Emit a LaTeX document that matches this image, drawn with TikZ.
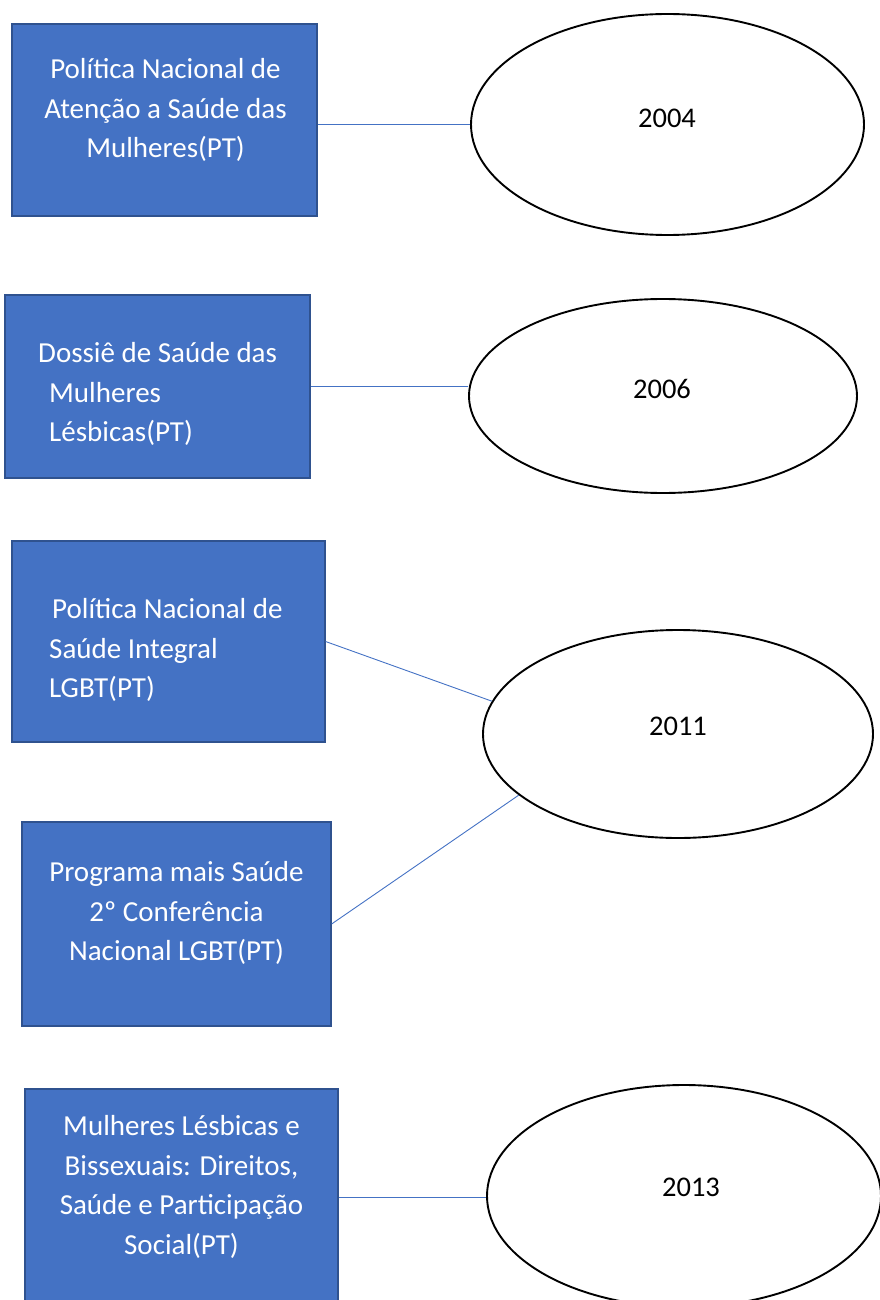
\documentclass[tikz,border=0pt]{standalone}
\usepackage{fontspec}
\setmainfont{Carlito}
\usetikzlibrary{shapes.geometric}

\definecolor{officeBlue}{HTML}{4472C4}
\definecolor{officeEdge}{HTML}{2F528F}

\begin{document}
\begin{tikzpicture}[
  x=1pt, y=-1pt,
  policy box/.style={draw=officeEdge, line width=1.2pt, fill=officeBlue, inner sep=0pt},
  policy text/.style={text=white, font=\fontsize{29}{39.5}\selectfont, align=center, inner sep=0pt},
  policy text left/.style={policy text, align=left, anchor=west},
  year shape/.style={draw, ellipse, line width=1.9pt, fill=white, inner sep=0pt},
  year text/.style={font=\fontsize{28.5}{34}\selectfont},
  link/.style={draw=officeBlue, line width=0.9pt}
]

\useasboundingbox (0,0) rectangle (880,1300);

% -----------------------------------------------------------------------------
% Left column: the policy documents (blue boxes).
% -----------------------------------------------------------------------------
\node[policy box, minimum width=305pt, minimum height=192pt] (box2004) at (164.5,120) {};
\node[policy text] (box2004Text) at (165.5,110) {Política Nacional de\\Atenção a Saúde das\\Mulheres(PT)};

\node[policy box, minimum width=305pt, minimum height=183pt] (box2006) at (157.5,386.5) {};
\node[policy text left] (box2006Text) at (38,394) {Dossiê de Saúde das\\\hspace*{11pt}Mulheres\\\hspace*{11pt}Lésbicas(PT)};

\node[policy box, minimum width=313pt, minimum height=201pt] (box2011a) at (168.5,641.5) {};
\node[policy text left] (box2011aText) at (49,650) {\hspace*{3pt}Política Nacional de\\Saúde Integral\\LGBT(PT)};

\node[policy box, minimum width=309pt, minimum height=204pt] (box2011b) at (176.5,924) {};
\node[policy text] (box2011bText) at (176.5,913) {Programa mais Saúde\\2º Conferência\\Nacional LGBT(PT)};

\node[policy box, minimum width=313pt, minimum height=216pt] (box2013) at (181.5,1197) {};
\node[policy text] (box2013Text) at (181.5,1187) {Mulheres Lésbicas e\\Bissexuais: Direitos,\\Saúde e Participação\\Social(PT)};

% -----------------------------------------------------------------------------
% Right column: the years (ellipses).
% -----------------------------------------------------------------------------
\node[year shape, minimum width=393pt, minimum height=221pt] (year2004) at (667.5,124.5) {};
\node[year text] (year2004Text) at (667,118) {2004};

\node[year shape, minimum width=388pt, minimum height=194pt] (year2006) at (663,396) {};
\node[year text] (year2006Text) at (662,389) {2006};

\node[year shape, minimum width=390pt, minimum height=208pt] (year2011) at (678,734) {};
\node[year text] (year2011Text) at (678,726) {2011};

\node[year shape, minimum width=394pt, minimum height=222pt] (year2013) at (684,1196) {};
\node[year text] (year2013Text) at (691,1187) {2013};

% -----------------------------------------------------------------------------
% Connectors.
% -----------------------------------------------------------------------------
\draw[link] (box2004.east |- year2004.west) -- (year2004.west);
\draw[link] (box2006.east) -- (box2006.east -| year2006.west);
\draw[link] (box2011a.east) -- (year2011.170);
\draw[link] (box2011b.east) -- (year2011.201.6);
\draw[link] (box2013.east) -- (box2013.east -| year2013.west);

\end{tikzpicture}
\end{document}
